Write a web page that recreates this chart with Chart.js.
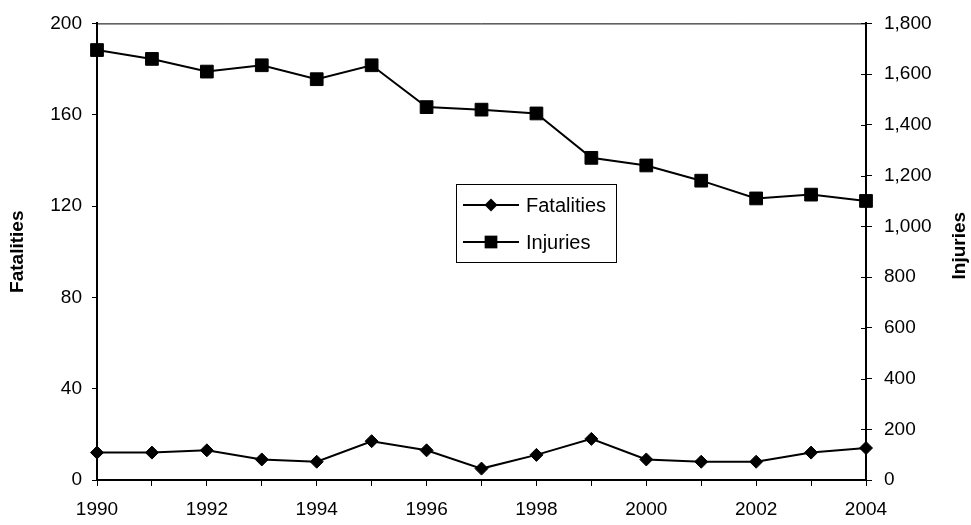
<!DOCTYPE html>
<html>
<head>
<meta charset="utf-8">
<script src="https://cdn.jsdelivr.net/npm/chart.js@4/dist/chart.umd.min.js"></script>
<style>
  html, body { margin: 0; padding: 0; background: #fff; }
  #wrap { width: 971px; height: 525px; }
</style>
</head>
<body>
<div id="wrap"><canvas id="chart" width="971" height="525"></canvas></div>
<script>
// Data
const years = ['1990', '1991', '1992', '1993', '1994', '1995', '1996', '1997',
               '1998', '1999', '2000', '2001', '2002', '2003', '2004'];
const fatalities = [12, 12, 13, 9, 8, 17, 13, 5, 11, 18, 9, 8, 8, 12, 14];
const injuries = [1695, 1660, 1610, 1635, 1580, 1635, 1470, 1460, 1445, 1270, 1240, 1180, 1110, 1125, 1100];
const fatalityTicks = [0, 40, 80, 120, 160, 200];
const injuryTicks = [0, 200, 400, 600, 800, 1000, 1200, 1400, 1600, 1800];

const FONT = "'Liberation Sans', Arial, sans-serif";

// Top frame line, inner ticks on the right axis, right axis title, legend box
const extras = {
  id: 'extras',
  afterDraw(chart) {
    const ctx = chart.ctx;
    const area = chart.chartArea;
    const y1 = chart.scales.y1;
    ctx.save();
    ctx.strokeStyle = '#000';
    ctx.lineWidth = 1;
    ctx.beginPath();
    ctx.moveTo(area.left, area.top + 0.5);
    ctx.lineTo(area.right, area.top + 0.5);
    y1.ticks.forEach(t => {
      const py = Math.round(y1.getPixelForValue(t.value)) + 0.5;
      ctx.moveTo(area.right - 5, py);
      ctx.lineTo(area.right, py);
    });
    ctx.stroke();

    // right axis title, reading bottom to top
    ctx.fillStyle = '#000';
    ctx.font = 'bold 19px ' + FONT;
    ctx.textAlign = 'center';
    ctx.textBaseline = 'middle';
    ctx.translate(960, (area.top + area.bottom) / 2 - 6);
    ctx.rotate(-Math.PI / 2);
    ctx.fillText(chart.options.scales.y1.title.text, 0, 0);
    ctx.restore();

    // legend
    ctx.save();
    ctx.strokeStyle = '#000';
    ctx.lineWidth = 1;
    ctx.strokeRect(456.5, 184.5, 160, 78);
    ctx.font = '20px ' + FONT;
    ctx.textAlign = 'left';
    ctx.textBaseline = 'middle';
    chart.data.datasets.forEach((ds, i) => {
      const cy = 205 + i * 37;
      ctx.lineWidth = 2;
      ctx.beginPath();
      ctx.moveTo(463, cy);
      ctx.lineTo(519, cy);
      ctx.stroke();
      ctx.fillStyle = '#000';
      ctx.beginPath();
      if (ds.pointStyle === 'rectRot') {
        const r = ds.pointRadius;
        ctx.moveTo(491 - r, cy);
        ctx.lineTo(491, cy - r);
        ctx.lineTo(491 + r, cy);
        ctx.lineTo(491, cy + r);
      } else {
        const s = ds.pointRadius * Math.SQRT1_2;
        ctx.rect(491 - s, cy - s, 2 * s, 2 * s);
      }
      ctx.closePath();
      ctx.fill();
      ctx.fillText(ds.label, 526, cy + 1);
    });
    ctx.restore();
  }
};

const chart = new Chart(document.getElementById('chart'), {
  type: 'line',
  data: {
    labels: years,
    datasets: [{
      label: 'Fatalities',
      data: fatalities,
      yAxisID: 'y',
      borderColor: '#000',
      backgroundColor: '#000',
      borderWidth: 2,
      pointStyle: 'rectRot',
      pointRadius: 6.5,
      pointBorderWidth: 1,
      tension: 0
    }, {
      label: 'Injuries',
      data: injuries,
      yAxisID: 'y1',
      borderColor: '#000',
      backgroundColor: '#000',
      borderWidth: 2,
      pointStyle: 'rect',
      pointRadius: 9,
      pointBorderWidth: 1,
      tension: 0
    }]
  },
  options: {
    responsive: false,
    animation: false,
    devicePixelRatio: 1,
    layout: { padding: { top: 20, left: 0, right: 0, bottom: 0 } },
    plugins: {
      legend: { display: false },
      tooltip: { enabled: false }
    },
    scales: {
      x: {
        offset: false,
        grid: { drawOnChartArea: false, drawTicks: true, tickLength: 6, color: '#000' },
        border: { color: '#000', width: 2 },
        ticks: {
          autoSkip: false,
          maxRotation: 0,
          padding: 12,
          color: '#000',
          font: { family: FONT, size: 19 },
          callback: (v, i) => (i % 2 === 0 ? years[i] : '')
        },
        afterFit: s => { s.height = 45; }
      },
      y: {
        position: 'left',
        min: fatalityTicks[0],
        max: fatalityTicks[fatalityTicks.length - 1],
        grid: { drawOnChartArea: false, drawTicks: true, tickLength: 5, color: '#000' },
        border: { color: '#000', width: 2 },
        ticks: {
          stepSize: fatalityTicks[1] - fatalityTicks[0],
          padding: 10,
          color: '#000',
          font: { family: FONT, size: 19 }
        },
        title: {
          display: true,
          text: 'Fatalities',
          color: '#000',
          font: { family: FONT, size: 19, weight: 'bold' },
          padding: { top: 6 }
        },
        afterFit: s => { s.width = 97; }
      },
      y1: {
        position: 'right',
        min: injuryTicks[0],
        max: injuryTicks[injuryTicks.length - 1],
        grid: { drawOnChartArea: false, drawTicks: true, tickLength: 6, color: '#000' },
        border: { color: '#000', width: 2 },
        ticks: {
          stepSize: injuryTicks[1] - injuryTicks[0],
          padding: 12,
          color: '#000',
          font: { family: FONT, size: 19 }
        },
        title: { display: false, text: 'Injuries' },
        afterFit: s => { s.width = 105; }
      }
    }
  },
  plugins: [extras]
});
</script>
</body>
</html>
